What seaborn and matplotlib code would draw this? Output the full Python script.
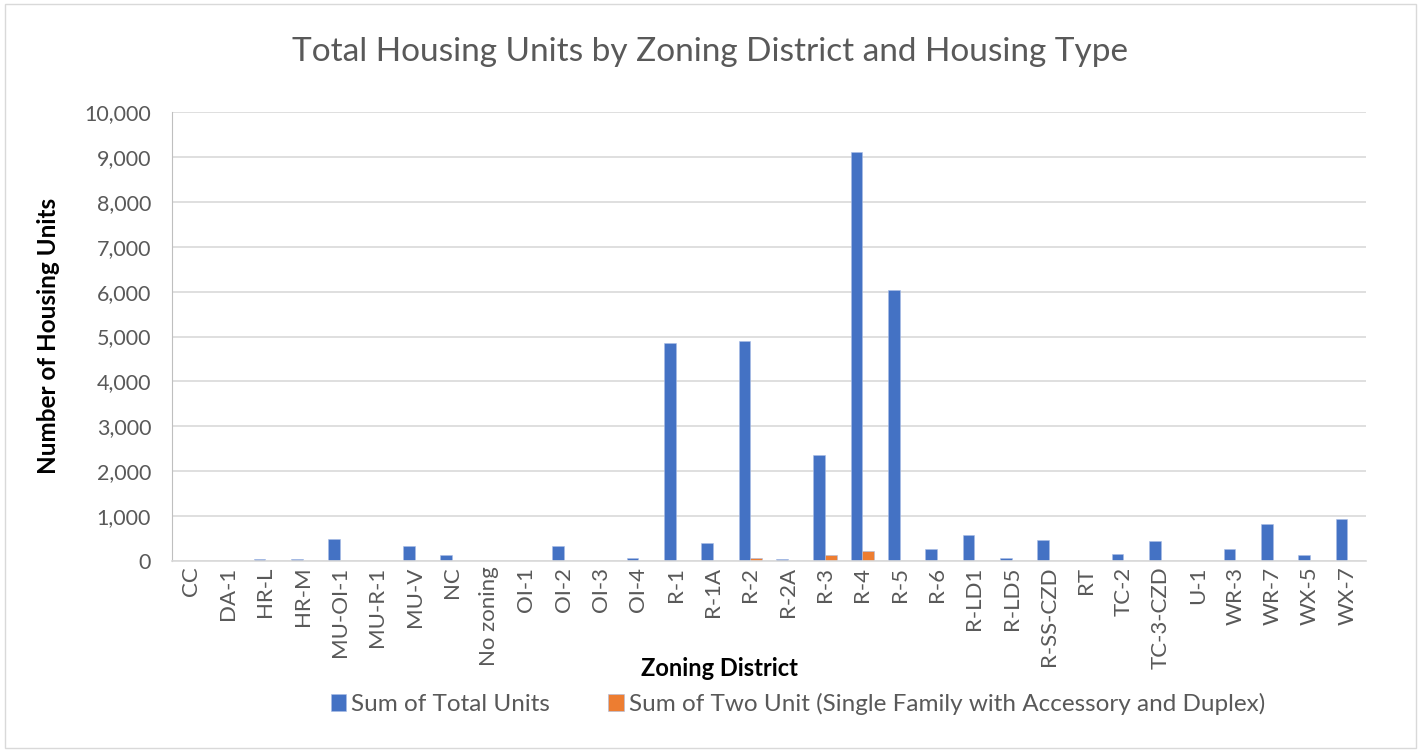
import pandas as pd
import matplotlib.pyplot as plt
import seaborn as sns
from matplotlib.patches import Rectangle

districts = ["CC", "DA-1", "HR-L", "HR-M", "MU-OI-1", "MU-R-1", "MU-V", "NC", "No zoning",
             "OI-1", "OI-2", "OI-3", "OI-4", "R-1", "R-1A", "R-2", "R-2A", "R-3", "R-4", "R-5",
             "R-6", "R-LD1", "R-LD5", "R-SS-CZD", "RT", "TC-2", "TC-3-CZD", "U-1", "WR-3",
             "WR-7", "WX-5", "WX-7"]
total_units = [0, 0, 45, 45, 500, 0, 325, 135, 0,
               0, 325, 0, 75, 4855, 390, 4900, 45, 2360, 9110, 6035,
               265, 590, 65, 465, 0, 155, 440, 0, 265,
               815, 125, 925]
two_units = [0, 0, 0, 0, 0, 0, 0, 0, 0,
             0, 0, 0, 0, 0, 0, 65, 0, 125, 215, 0,
             0, 0, 0, 0, 0, 0, 0, 0, 0,
             0, 0, 0]
series_names = ["Sum of Total Units", "Sum of Two Unit (Single Family with Accessory and Duplex)"]

df = pd.DataFrame({
    "District": districts * 2,
    "Units": total_units + two_units,
    "Series": [series_names[0]] * len(districts) + [series_names[1]] * len(districts),
})

sns.set_style("white")
plt.rcParams["font.family"] = ["Lato", "DejaVu Sans"]

fig = plt.figure(figsize=(14.21, 7.51), dpi=100)
ax = fig.add_axes([172 / 1421, 1 - 561 / 751, (1366 - 172) / 1421, (561 - 112) / 751])

sns.barplot(data=df, x="District", y="Units", hue="Series", order=districts,
            hue_order=series_names, palette=["#4472C4", "#ED7D31"], width=0.62,
            saturation=1, edgecolor="#A9BDE6", linewidth=0.4, ax=ax)

ax.set_ylim(0, 10000)
ax.set_xlim(-0.5, len(districts) - 0.5)
ax.set_yticks(range(0, 10001, 1000))
ax.set_yticklabels([f"{v:,}" for v in range(0, 10001, 1000)])
ax.yaxis.grid(True, color="#D9D9D9", linewidth=1.2)
ax.set_axisbelow(True)
for s in ["top", "right"]:
    ax.spines[s].set_visible(False)
ax.spines["left"].set_color("#BFBFBF")
ax.spines["bottom"].set_color("#D9D9D9")
ax.spines["bottom"].set_linewidth(1.2)
ax.tick_params(axis="y", labelsize=15.5, colors="#595959", length=0, pad=15)
ax.tick_params(axis="x", labelsize=16, colors="#595959", length=0, rotation=90, pad=4)

ax.set_xlabel("Zoning District", fontsize=17, fontweight="bold", color="black")
ax.xaxis.set_label_coords((719 - 172) / 1194, (561 - 657) / 449)
ax.set_ylabel("Number of Housing Units", fontsize=17.5, fontweight="bold", color="black")
ax.yaxis.set_label_coords((60 - 172) / 1194, (561 - 336) / 449)
fig.text(0.5, 1 - 52 / 751, "Total Housing Units by Zoning District and Housing Type",
         ha="center", va="center", fontsize=24, color="#595959")

ax.legend(loc="center", bbox_to_anchor=((798 - 172) / 1194, (561 - 704) / 449), ncol=2,
          frameon=False, fontsize=17.5, labelcolor="#595959", handlelength=0.65,
          handleheight=0.65, columnspacing=2.4, handletextpad=0.2)

fig.patches.append(Rectangle((5 / 1421, 3 / 751), 1411 / 1421, 744 / 751, transform=fig.transFigure,
                             fill=False, edgecolor="#D9D9D9", linewidth=1))

fig.savefig("out.png", dpi=100)
